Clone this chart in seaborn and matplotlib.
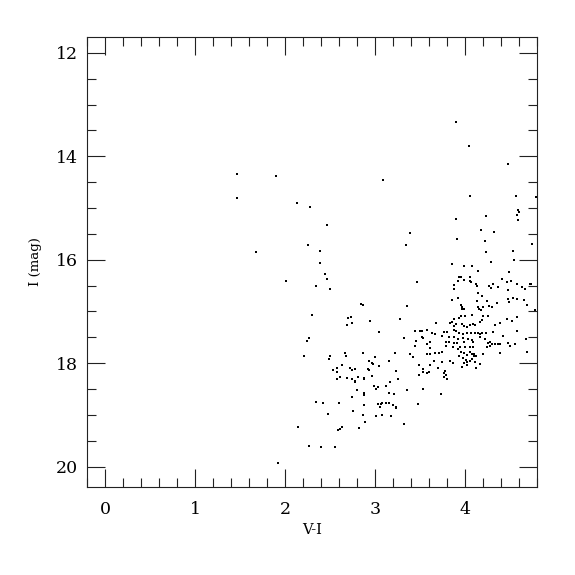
import matplotlib
matplotlib.use("Agg")
import matplotlib.pyplot as plt
from matplotlib.ticker import MultipleLocator
import seaborn as sns
import pandas as pd

# ---- data (V-I colour, I magnitude) ----
vi_sparse = [1.46, 1.90, 1.46, 2.13, 2.28, 1.67, 2.01, 2.14, 1.92, 3.09]
i_sparse = [14.34, 14.38, 14.81, 14.91, 14.99, 15.85, 16.41, 19.23, 19.93, 14.45]

vi_mid = [2.46, 2.25, 2.39, 2.39, 2.44, 2.46, 2.34, 2.50, 2.84, 2.86, 2.30, 2.70, 2.73, 2.74, 2.69,
          2.94, 3.04, 2.26, 2.24, 2.21, 2.50, 2.49, 2.66, 2.68, 2.86, 3.00, 2.93, 2.96, 2.98, 2.63,
          2.57, 2.53, 2.57, 2.72, 2.74, 2.77, 2.92, 2.93, 3.04, 2.61, 2.57, 2.69, 2.74, 2.77, 2.77,
          2.81, 2.87, 2.87, 2.96, 2.99, 3.03, 3.01, 2.80, 2.88, 2.87, 2.74, 2.34, 2.42, 2.60, 2.88,
          3.03, 3.06, 3.08, 3.05, 2.75, 2.48, 2.86, 3.01, 3.08, 2.89, 2.63, 2.61, 2.59, 2.82, 2.26,
          2.40, 2.55]
i_mid = [15.33, 15.72, 15.84, 16.06, 16.27, 16.37, 16.50, 16.57, 16.85, 16.88, 17.07, 17.12, 17.11, 17.22, 17.27,
         17.18, 17.39, 17.51, 17.57, 17.86, 17.87, 17.92, 17.81, 17.86, 17.80, 17.88, 17.96, 17.99, 18.02, 18.04,
         18.09, 18.14, 18.17, 18.09, 18.13, 18.12, 18.11, 18.13, 18.05, 18.27, 18.31, 18.28, 18.31, 18.34, 18.36,
         18.27, 18.29, 18.31, 18.24, 18.45, 18.47, 18.51, 18.52, 18.58, 18.61, 18.65, 18.75, 18.78, 18.77, 18.82,
         18.79, 18.79, 18.77, 18.85, 18.92, 18.98, 19.00, 19.02, 19.00, 19.14, 19.23, 19.27, 19.29, 19.25, 19.60,
         19.62, 19.62]

vi_red1 = [3.39, 3.34, 3.46, 3.35, 3.28, 3.68, 3.44, 3.50, 3.52, 3.57, 3.63, 3.66, 3.32, 3.52, 3.53,
           3.45, 3.61, 3.44, 3.57, 3.61, 3.22, 3.39, 3.42, 3.57, 3.61, 3.66, 3.71, 3.15, 3.65, 3.61,
           3.49, 3.70, 3.53, 3.53, 3.57, 3.60, 3.49, 3.23, 3.25, 3.16, 3.12, 3.35, 3.53, 3.15, 3.21,
           3.73, 3.12, 3.15, 3.20, 3.23, 3.23, 3.47, 3.18, 3.32]
i_red1 = [15.48, 15.71, 16.44, 16.89, 17.14, 17.22, 17.37, 17.37, 17.37, 17.36, 17.42, 17.44, 17.52, 17.50, 17.52,
          17.57, 17.60, 17.66, 17.64, 17.70, 17.80, 17.82, 17.89, 17.83, 17.82, 17.80, 17.80, 17.95, 17.95, 18.03,
          18.03, 18.09, 18.12, 18.17, 18.20, 18.18, 18.23, 18.15, 18.31, 18.37, 18.45, 18.52, 18.50, 18.57, 18.60,
          18.59, 18.77, 18.77, 18.81, 18.84, 18.87, 18.79, 19.03, 19.18]

vi_red2 = [3.90, 4.04, 4.48, 4.05, 4.56, 4.79, 4.59, 4.60, 4.57, 4.59, 3.90, 4.23, 4.18,
           4.32, 3.91, 4.22, 4.74, 4.23, 4.53, 4.54, 4.29, 3.85, 3.99, 4.07, 4.14, 4.49, 3.93, 3.95,
           4.05, 3.92, 3.99, 4.05, 4.06, 4.41, 4.46, 4.51, 3.88, 4.12, 4.13, 4.26, 4.31, 4.36, 4.57,
           4.72, 4.73, 4.63, 4.66, 3.87, 4.29, 4.48, 4.14, 4.19, 3.85, 3.92, 4.13, 4.24, 4.35, 4.47,
           4.49, 4.53, 4.58, 4.65, 4.69, 3.95, 3.96, 3.99, 3.96, 4.14, 4.15, 4.17, 4.20, 4.26, 4.30,
           4.78]
i_red2 = [13.34, 13.80, 14.15, 14.76, 14.76, 14.78, 15.04, 15.08, 15.14, 15.23, 15.21, 15.15, 15.42,
          15.47, 15.60, 15.64, 15.70, 15.85, 15.83, 16.01, 16.05, 16.08, 16.13, 16.12, 16.21, 16.24, 16.33, 16.33,
          16.33, 16.42, 16.40, 16.41, 16.43, 16.37, 16.43, 16.41, 16.49, 16.48, 16.51, 16.51, 16.48, 16.53, 16.47,
          16.47, 16.48, 16.53, 16.57, 16.57, 16.55, 16.59, 16.65, 16.70, 16.78, 16.75, 16.79, 16.80, 16.83, 16.76,
          16.82, 16.75, 16.77, 16.78, 16.87, 16.88, 16.92, 16.96, 16.96, 16.92, 16.95, 16.97, 16.91, 16.90, 16.92,
          16.97]

vi_dense = [3.95, 4.00, 4.08, 4.20, 4.25, 3.88, 3.93, 4.46, 4.52, 4.58, 3.83, 3.85, 3.88, 3.90, 3.96,
            3.99, 4.02, 4.05, 4.09, 4.11, 4.16, 4.19, 4.33, 4.39, 3.76, 3.80, 3.87, 3.90, 3.93, 3.97,
            4.02, 4.06, 4.11, 4.14, 4.16, 4.19, 4.23, 4.31, 4.42, 4.58, 3.74, 3.82, 3.87, 3.92, 3.98,
            4.03, 4.08, 4.16, 4.22, 3.79, 3.82, 3.88, 3.91, 3.99, 4.09, 4.25, 4.28, 4.30, 4.33, 4.36,
            4.39, 4.47, 4.50, 4.55, 4.68, 3.79, 3.86, 3.94, 4.00, 4.05, 4.09, 4.24, 4.27, 3.92, 3.95,
            3.99, 4.02, 4.05, 4.08, 4.10, 4.12, 4.20, 4.39, 4.69, 3.74, 3.93, 3.98, 4.01, 4.05, 4.08,
            4.10, 4.11, 3.74, 3.83, 3.86, 3.99, 4.02, 4.02, 4.16, 4.12, 3.96, 3.77, 3.76, 3.79, 3.76,
            3.80]
i_dense = [17.09, 17.09, 17.07, 17.08, 17.08, 17.15, 17.13, 17.15, 17.18, 17.11, 17.23, 17.21, 17.28, 17.24, 17.24,
           17.28, 17.31, 17.26, 17.24, 17.26, 17.20, 17.17, 17.26, 17.23, 17.40, 17.40, 17.36, 17.37, 17.41, 17.44,
           17.41, 17.41, 17.42, 17.42, 17.44, 17.42, 17.42, 17.40, 17.47, 17.37, 17.47, 17.49, 17.50, 17.53, 17.52,
           17.53, 17.55, 17.50, 17.53, 17.59, 17.59, 17.62, 17.62, 17.59, 17.60, 17.62, 17.60, 17.64, 17.64, 17.64,
           17.64, 17.62, 17.66, 17.64, 17.53, 17.67, 17.69, 17.69, 17.68, 17.69, 17.68, 17.68, 17.66, 17.73, 17.78,
           17.81, 17.84, 17.78, 17.83, 17.82, 17.87, 17.82, 17.81, 17.79, 17.78, 17.87, 17.91, 17.94, 17.95, 17.93,
           17.87, 17.97, 17.97, 17.96, 18.00, 17.99, 17.97, 18.04, 18.02, 18.09, 18.08, 18.15, 18.20, 18.23, 18.26,
           18.31]

x_ticks = [0, 1, 2, 3, 4]
y_ticks = [12, 14, 16, 18, 20]

df = pd.DataFrame({
    "V-I": vi_sparse + vi_mid + vi_red1 + vi_red2 + vi_dense,
    "I": i_sparse + i_mid + i_red1 + i_red2 + i_dense,
})

sns.set_style("ticks")
plt.rcParams["font.family"] = ["DejaVu Serif"]

fig = plt.figure(figsize=(5.75, 5.75), dpi=100)
ax = fig.add_axes([0.1518, 0.1536, 0.7826, 0.7815])

sns.scatterplot(data=df, x="V-I", y="I", ax=ax, color="black", marker="s",
                s=4.5, linewidth=0, legend=False)

ax.set_xlim(-0.2, 4.8)
ax.set_ylim(20.39, 11.70)
ax.set_xticks(x_ticks)
ax.set_yticks(y_ticks)
ax.xaxis.set_minor_locator(MultipleLocator(0.2))
ax.yaxis.set_minor_locator(MultipleLocator(0.5))
ax.tick_params(which="both", direction="in", top=True, right=True,
               color="#222222", width=0.8, labelcolor="black")
ax.tick_params(which="major", length=13, labelsize=12.5)
ax.tick_params(axis="x", which="major", pad=10)
ax.tick_params(axis="y", which="major", pad=7)
ax.tick_params(which="minor", length=6.5)
for sp in ax.spines.values():
    sp.set_linewidth(0.8)
    sp.set_color("#222222")

ax.set_xlabel("V-I", fontsize=10.5, labelpad=4, color="black")
ax.set_ylabel("I (mag)", fontsize=9.5, labelpad=10, color="black")

fig.savefig("out.png", dpi=100)
